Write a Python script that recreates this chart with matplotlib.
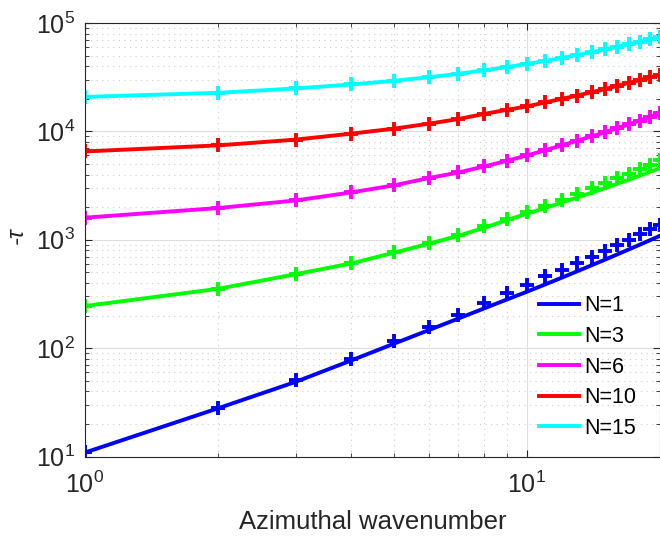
import matplotlib
matplotlib.use("Agg")
import matplotlib.pyplot as plt
from matplotlib.ticker import LogLocator, NullFormatter

plt.rcParams['font.family'] = ['Liberation Sans', 'DejaVu Sans']
plt.rcParams['mathtext.default'] = 'regular'

# Azimuthal wavenumber
m = [1, 2, 3, 4, 5, 6, 7, 8, 9, 10, 11, 12, 13, 14, 15, 16, 17, 18, 19, 20]

labels = ["N=1", "N=3", "N=6", "N=10", "N=15"]
colors = ["#0000ff", "#00ff00", "#ff00ff", "#ff0000", "#00ffff"]

# markers (computed -tau)
pts_N1 = [11.1, 28, 51, 80, 117, 158, 204, 260, 324, 385, 460, 530, 615, 700, 795, 890, 1000, 1130, 1250, 1380]
pts_N3 = [245, 353, 485, 609, 769, 933, 1112, 1327, 1570, 1810, 2070, 2340, 2660, 3000, 3340, 3715, 4080, 4500, 4950, 5400]
pts_N6 = [1600, 1963, 2307, 2735, 3177, 3715, 4180, 4750, 5350, 6000, 6700, 7450, 8200, 9000, 9800, 10700, 11600, 12600, 13600, 14700]
pts_N10 = [6530, 7430, 8400, 9530, 10600, 11780, 13000, 14500, 15800, 17000, 18500, 20000, 21400, 23000, 24500, 26300, 28000, 29800, 31500, 33300]
pts_N15 = [20800, 22700, 24900, 27100, 29300, 31600, 34000, 36600, 39200, 41900, 44700, 47600, 50700, 53800, 57000, 60300, 63700, 67200, 70800, 74500]

# solid curves (approximation)
line_N1 = [10.9, 27.9, 49, 77, 110, 147, 188, 233, 281, 332, 388, 448, 513, 582, 655, 733, 815, 902, 993, 1090]
line_N3 = [245, 353, 482, 605, 760, 920, 1090, 1290, 1520, 1740, 1970, 2210, 2460, 2720, 3000, 3290, 3590, 3910, 4240, 4580]
line_N6 = pts_N6
line_N10 = pts_N10
line_N15 = pts_N15

pts = [pts_N1, pts_N3, pts_N6, pts_N10, pts_N15]
lines = [line_N1, line_N3, line_N6, line_N10, line_N15]

fig = plt.figure(figsize=(6.6, 5.37), dpi=100)
ax = fig.add_axes([85/660, (537-456.6)/537, 575/660, 433.6/537])

for lab, col, ln, pt in zip(labels, colors, lines, pts):
    ax.plot(m, ln, color=col, lw=2.8, label=lab)
    ax.plot(m, pt, linestyle='none', marker='+', color=col, ms=10.5, mew=2.8)

ax.set_xscale('log')
ax.set_yscale('log')
ax.set_xlim(1, 20)
ax.set_ylim(10, 1e5)

ax.yaxis.set_major_locator(LogLocator(base=10, numticks=10))
ax.yaxis.set_minor_locator(LogLocator(base=10, subs=range(2, 10), numticks=20))
ax.yaxis.set_minor_formatter(NullFormatter())
ax.xaxis.set_minor_formatter(NullFormatter())

ax.grid(True, which='major', color='#dedede', linestyle='-', linewidth=0.8)
ax.grid(True, which='minor', color='#cccccc', linestyle=(0, (1, 4)), linewidth=0.8)
ax.set_axisbelow(True)

ax.tick_params(which='both', direction='in', top=True, right=True, colors='#262626')
ax.tick_params(which='major', length=5, width=0.8, labelsize=18, pad=7)
ax.tick_params(axis='x', which='major', pad=11)
ax.tick_params(which='minor', length=3, width=0.6)
for sp in ax.spines.values():
    sp.set_color('#262626')
    sp.set_linewidth(0.8)

ax.set_xlabel('Azimuthal wavenumber', fontsize=18.5, color='#262626')
ax.xaxis.set_label_coords(0.5, -0.123)
ax.xaxis.label.set_va('top')
ax.set_ylabel('-τ', fontsize=17, color='#262626', fontstyle='italic')
ax.yaxis.set_label_coords(-0.1, 0.51)

leg = ax.legend(loc='center left', bbox_to_anchor=(0.79, 0.2066), frameon=False,
                fontsize=15.5, handlelength=1.85, handletextpad=0.25,
                labelspacing=0.45, borderpad=0, borderaxespad=0)
for t in leg.get_texts():
    t.set_color('black')

fig.savefig('out.png', dpi=100)
